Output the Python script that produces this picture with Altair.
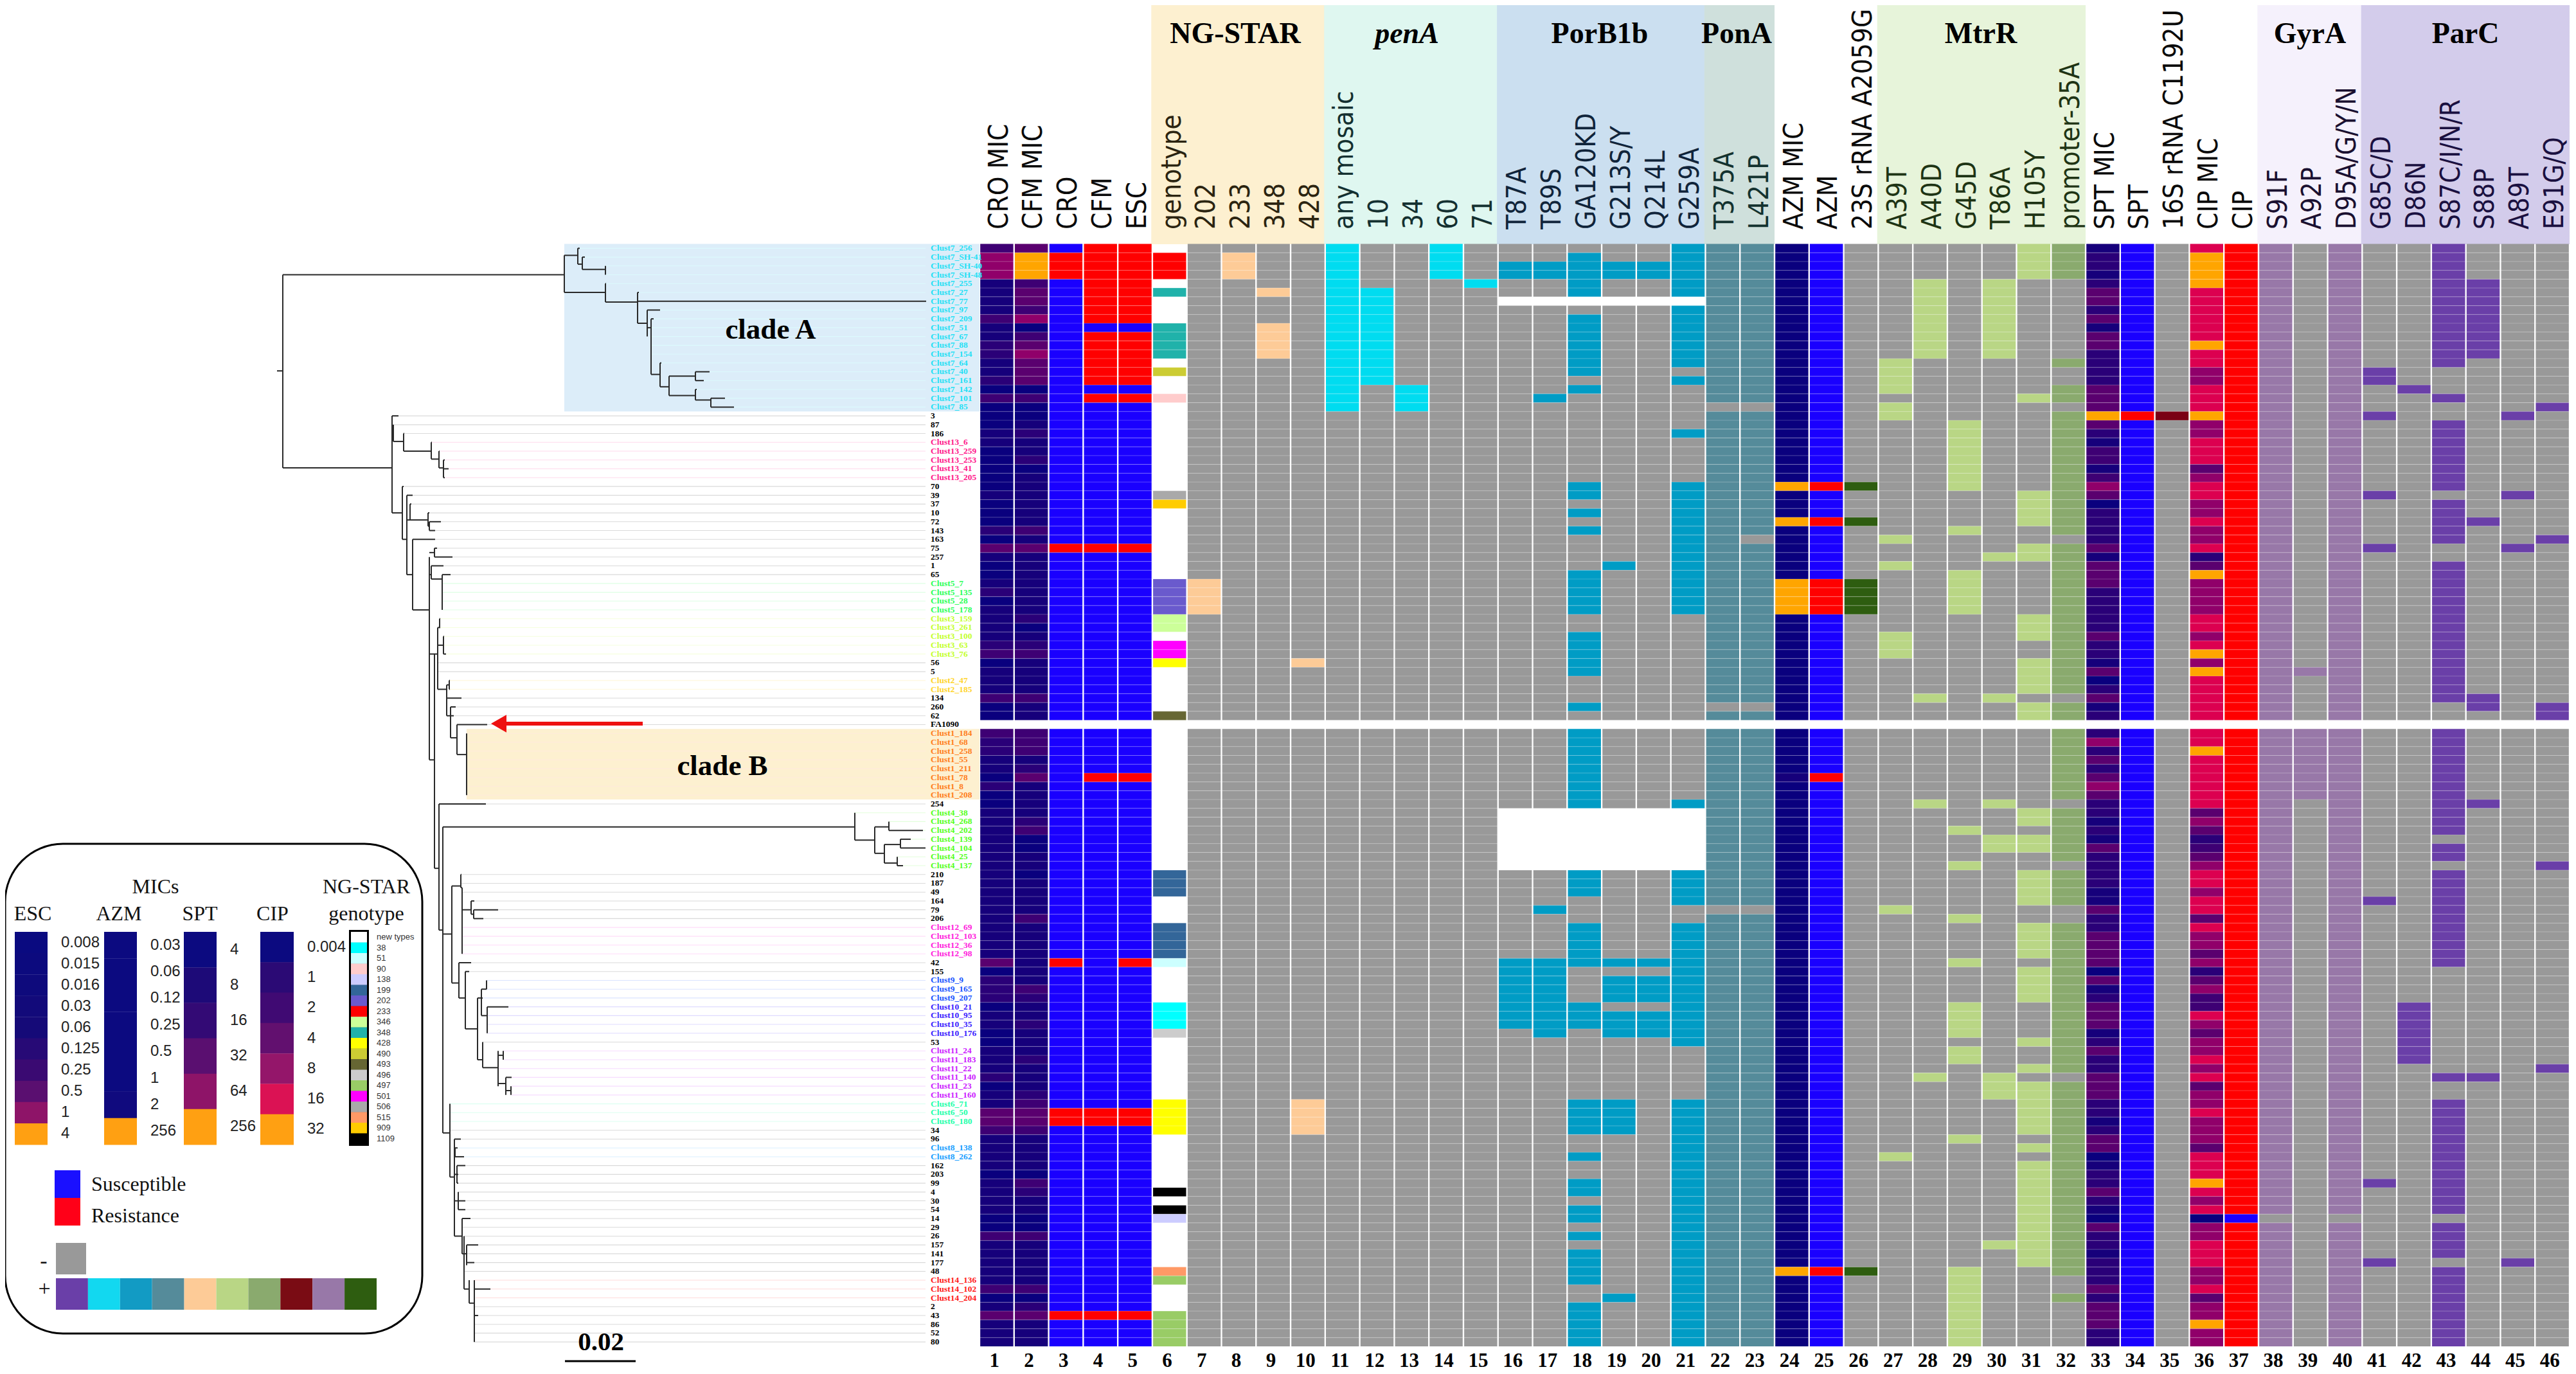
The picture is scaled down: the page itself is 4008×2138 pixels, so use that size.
import altair as alt
import pandas as pd

alt.data_transformers.disable_max_rows()

# ---------- rows ----------
row_labels = (
    ["Clust7_256","Clust7_SH-41","Clust7_SH-40","Clust7_SH-48","Clust7_255","Clust7_27","Clust7_77","Clust7_97","Clust7_209","Clust7_51",
     "Clust7_67","Clust7_88","Clust7_154","Clust7_64","Clust7_40","Clust7_161","Clust7_142","Clust7_101","Clust7_85","3","87","186",
     "Clust13_6","Clust13_259","Clust13_253","Clust13_41","Clust13_205","70","39","37","10","72","143","163","75","257","1","65",
     "Clust5_7","Clust5_135","Clust5_28","Clust5_178","Clust3_159","Clust3_261","Clust3_100","Clust3_63","Clust3_76","56","5",
     "Clust2_47","Clust2_185","134","260","62","FA1090",
     "Clust1_184","Clust1_68","Clust1_258","Clust1_55","Clust1_211","Clust1_78","Clust1_8","Clust1_208","254",
     "Clust4_38","Clust4_268","Clust4_202","Clust4_139","Clust4_104","Clust4_25","Clust4_137","210","187","49","164","79","206",
     "Clust12_69","Clust12_103","Clust12_36","Clust12_98","42","155","Clust9_9","Clust9_165","Clust9_207",
     "Clust10_21","Clust10_95","Clust10_35","Clust10_176","53","Clust11_24","Clust11_183","Clust11_22","Clust11_140","Clust11_23","Clust11_160",
     "Clust6_71","Clust6_50","Clust6_180","34","96","Clust8_138","Clust8_262","162","203","99","4","30","54","14","29","26","157","141","177","48",
     "Clust14_136","Clust14_102","Clust14_204","2","43","86","52","80"])
cluster_colors = {"Clust7_":"#25e0f5","Clust13_":"#ff1a8c","Clust5_":"#2dff5a","Clust3_":"#c4ff2e","Clust2_":"#ffd52e",
                  "Clust1_":"#ff7f1e","Clust4_":"#55ff22","Clust12_":"#ff22dd","Clust9_":"#1a55ff","Clust10_":"#3a22ff",
                  "Clust11_":"#cc22ff","Clust6_":"#22ffaa","Clust8_":"#1aa0ff","Clust14_":"#ff1a1a"}
GAP_ROW = 54

# ---------- columns ----------
col_names = ["CRO MIC","CFM MIC","CRO","CFM","ESC","genotype","202","233","348","428","any mosaic","10","34","60","71",
             "T87A","T89S","GA120KD","G213S/Y","Q214L","G259A","T375A","L421P","AZM MIC","AZM","23S rRNA A2059G",
             "A39T","A40D","G45D","T86A","H105Y","promoter-35A","SPT MIC","SPT","16S rRNA C1192U","CIP MIC","CIP",
             "S91F","A92P","D95A/G/Y/N","G85C/D","D86N","S87C/I/N/R","S88P","A89T","E91G/Q"]

# inclusive row runs where each column is "present"
res_cro  = [(1,3),(34,34),(81,81),(98,99),(121,121)]
res_cfm  = [(0,8),(10,15),(17,17),(34,34),(60,60),(98,99),(121,121)]
res_esc  = [(0,8),(10,15),(17,17),(34,34),(60,60),(81,81),(98,99),(121,121)]
star_202 = [(38,41)]
star_233 = [(1,3)]
star_348 = [(5,5),(9,12)]
star_428 = [(47,47),(97,100)]
pen_any  = [(0,18)]
pen_10   = [(5,15)]
pen_34   = [(16,18)]
pen_60   = [(0,3)]
pen_71   = [(4,4)]
por_t87  = [(2,3),(81,88)]
por_t89  = [(2,3),(17,17),(75,75),(81,89)]
por_ga   = [(1,5),(8,14),(16,16),(27,28),(30,30),(32,32),(37,41),(44,48),(52,52),(55,63),(71,73),(77,81),(86,88),(97,100),
            (103,103),(106,107),(109,110),(112,112),(114,117),(120,124)]
por_g213 = [(2,3),(36,36),(81,81),(83,85),(87,89),(97,100),(119,119)]
por_q214 = [(2,3),(81,81),(83,85),(87,89)]
por_g259 = [(0,5),(7,13),(15,15),(21,21),(27,41),(63,63),(71,74),(77,90),(97,124)]
pon_t375 = [(0,17),(19,51),(53,74),(76,124)]
pon_l421 = [(0,17),(19,32),(34,51),(53,74),(76,124)]
azm_res  = [(27,27),(31,31),(38,41),(60,60),(116,116)]
rrna_23s = [(27,27),(31,31),(38,41),(116,116)]
mtr_a39  = [(13,16),(18,19),(33,33),(36,36),(44,46),(75,75),(103,103)]
mtr_a40  = [(4,12),(51,51),(63,63),(94,94)]
mtr_g45  = [(20,27),(32,32),(37,41),(66,66),(70,70),(76,76),(81,81),(86,89),(91,92),(101,101),(116,124)]
mtr_t86  = [(4,12),(35,35),(51,51),(63,63),(67,68),(94,96),(113,113)]
mtr_h105 = [(0,3),(17,17),(28,31),(34,35),(42,44),(47,50),(52,53),(64,65),(67,68),(71,74),(77,80),(82,85),(90,90),(93,93),(95,100),(102,102),(104,115)]
mtr_p35  = [(0,3),(13,13),(16,17),(19,32),(34,50),(52,53),(55,62),(64,69),(71,74),(77,93),(95,116),(119,119)]
spt_res  = [(19,19)]
rrna_16s = [(19,19)]
cip_sus  = [(110,110)]
gyr_s91  = [(0,53),(55,109),(111,124)]
gyr_a92  = [(48,48),(55,62)]
gyr_d95  = [(0,53),(55,109),(111,124)]
par_g85  = [(14,15),(19,19),(28,28),(34,34),(74,74),(106,106),(115,115)]
par_d86  = [(16,16),(86,92)]
par_s87  = [(0,13),(17,17),(20,27),(29,33),(36,51),(55,66),(68,69),(71,81),(94,94),(97,109),(111,114),(116,124)]
par_s88  = [(4,12),(31,31),(51,52),(63,63),(94,94)]
par_a89  = [(19,19),(28,28),(34,34),(115,115)]
par_e91  = [(18,18),(33,33),(52,53),(70,70),(93,93)]

# genotype strip: (first row, last row, type)
genotype_runs = [(1,3,"233"),(5,5,"348"),(9,12,"348"),(14,14,"490"),(17,17,"90"),(28,28,"506"),(29,29,"909"),(38,41,"202"),
                 (42,43,"346"),(45,46,"501"),(47,47,"428"),(53,53,"493"),(71,73,"199"),(77,80,"199"),(81,81,"51"),(86,88,"38"),
                 (89,89,"496"),(97,100,"428"),(107,107,"1109"),(109,109,"1109"),(110,110,"138"),(116,116,"515"),(117,117,"497"),(121,124,"497")]
genotype_names  = ["new types","38","51","90","138","199","202","233","346","348","428","490","493","496","497","501","506","515","909","1109"]
genotype_colors = ["#ffffff","#00ffff","#ccffff","#ffcccc","#ccccff","#336699","#6a5acd","#ff0000","#ccff99","#20b2aa","#ffff00","#cccc33",
                   "#666633","#cccccc","#99cc66","#ff00ff","#a9a9a9","#ff9966","#ffcc00","#000000"]

# MIC columns, level per row: 0 lowest ... 7 highest. default + (row, level) overrides
cro_mic = {0:3,1:5,2:5,3:5,8:3,11:2,12:2,15:2,16:0,17:3,18:0,19:0,20:0,23:0,24:0,25:0,26:0,27:0,28:1,29:0,30:0,31:0,32:2,33:0,34:4,36:0,37:0,
           39:2,40:0,45:2,46:3,47:0,51:3,52:0,53:0,55:3,56:2,57:2,60:0,61:2,62:0,63:0,76:1,82:0,83:2,84:2,85:2,86:0,89:0,90:0,94:2,98:4,99:4,100:3,
           81:4,95:0,105:0,110:0,111:0,112:3,118:3,119:0,121:4}
cfm_mic = {0:4,1:7,2:7,3:7,4:3,5:4,6:4,7:3,8:5,9:0,10:3,11:4,12:5,13:4,14:4,15:4,16:0,17:3,18:0,19:0,21:2,24:2,25:0,32:3,34:4,42:2,43:0,46:3,
           45:2,51:3,55:3,56:3,57:3,58:1,59:2,60:4,65:2,66:3,67:0,68:0,71:0,76:3,84:3,85:2,88:2,92:2,96:2,97:3,98:4,99:4,100:3,105:0,106:3,107:2,
           110:0,111:0,112:3,118:3,119:0,120:2,121:4}
azm_mic = {27:7,31:7,38:7,39:7,40:7,41:7,60:1,116:7}
spt_mic = [(0,0,1),(1,2,2),(3,3,1),(4,4,2),(5,6,4),(7,7,2),(8,8,4),(9,9,1),(10,11,4),(12,15,2),(16,18,4),(19,19,7),(20,20,4),(21,21,2),(22,22,1),
           (23,24,3),(25,25,1),(26,26,3),(27,27,5),(28,28,4),(29,29,0),(30,33,2),(34,34,4),(35,35,1),(36,38,4),(39,43,2),(44,44,4),(45,46,2),(47,47,1),
           (48,48,4),(49,49,0),(50,50,2),(51,51,4),(52,52,1),(53,53,2),(55,55,2),(56,56,5),(57,57,2),(58,58,4),(59,59,2),(60,60,4),(61,61,5),(62,62,4),
           (63,64,2),(65,65,1),(66,66,2),(67,67,1),(68,68,4),(69,72,2),(73,74,1),(75,75,4),(76,77,2),(78,81,4),(82,82,0),(83,83,4),(84,84,1),(85,85,2),
           (86,88,4),(89,89,1),(90,90,2),(91,91,4),(92,93,2),(94,96,4),(97,98,2),(99,99,1),(100,100,2),(101,102,4),(103,103,0),(104,104,1),(105,106,2),
           (107,107,4),(108,108,2),(109,109,1),(110,110,0),(111,111,4),(112,113,2),(114,114,1),(115,117,2),(118,118,4),(119,119,2),(120,122,4),(123,124,2)]
cip_mic = [(0,0,6),(1,4,7),(5,10,6),(11,11,7),(12,13,6),(14,15,5),(16,18,6),(19,19,7),(20,21,5),(22,24,6),(25,25,4),(26,26,5),(27,28,6),(29,30,5),(31,31,6),
           (32,33,5),(34,34,6),(35,35,2),(36,36,4),(37,37,7),(38,41,5),(42,43,6),(44,44,5),(45,45,6),(46,46,7),(47,47,5),(48,48,7),(49,53,6),
           (55,56,6),(57,57,7),(58,63,6),(64,64,4),(65,65,5),(66,66,4),(67,67,2),(68,68,3),(69,69,4),(70,70,5),(71,72,6),(73,73,5),(74,75,6),
           (76,76,4),(77,77,6),(78,79,5),(80,80,4),(81,81,5),(82,82,2),(83,83,4),(84,84,5),(85,86,3),(87,87,6),(88,88,5),(89,89,4),(90,91,5),(92,92,6),
           (93,93,5),(94,94,6),(95,95,4),(96,97,5),(98,98,6),(99,101,5),(102,102,4),(103,105,6),(106,106,7),(107,107,6),(108,108,5),(109,109,6),(110,110,0),
           (111,112,5),(113,115,6),(116,117,5),(118,118,6),(119,119,4),(120,121,5),(122,122,7),(123,124,5)]
mic_palette = ["#0a007e","#16007b","#2a0078","#3e0074","#5a006f","#90006a","#dc0050","#ffa500"]

GREY = "#999999"; BLUE = "#1a00ff"; RED = "#ff0000"; CYAN = "#00dcf0"; TEAL = "#009cc5"; SLATE = "#558b9a"
PEACH = "#fdcb97"; LIME = "#b9d685"; OLIVE = "#8aaa6e"; WINE = "#7a0014"; MAUVE = "#9878a8"; VIOLET = "#6a3fa8"; FOREST = "#2e5d10"

binary_cols = {7:(star_202,PEACH),8:(star_233,PEACH),9:(star_348,PEACH),10:(star_428,PEACH),
               11:(pen_any,CYAN),12:(pen_10,CYAN),13:(pen_34,CYAN),14:(pen_60,CYAN),15:(pen_71,CYAN),
               16:(por_t87,TEAL),17:(por_t89,TEAL),18:(por_ga,TEAL),19:(por_g213,TEAL),20:(por_q214,TEAL),21:(por_g259,TEAL),
               22:(pon_t375,SLATE),23:(pon_l421,SLATE),26:(rrna_23s,FOREST),
               27:(mtr_a39,LIME),28:(mtr_a40,LIME),29:(mtr_g45,LIME),30:(mtr_t86,LIME),31:(mtr_h105,LIME),32:(mtr_p35,OLIVE),35:(rrna_16s,WINE),
               38:(gyr_s91,MAUVE),39:(gyr_a92,MAUVE),40:(gyr_d95,MAUVE),
               41:(par_g85,VIOLET),42:(par_d86,VIOLET),43:(par_s87,VIOLET),44:(par_s88,VIOLET),45:(par_a89,VIOLET),46:(par_e91,VIOLET)}
susc_cols = {3:(res_cro,RED,BLUE),4:(res_cfm,RED,BLUE),5:(res_esc,RED,BLUE),25:(azm_res,RED,BLUE),34:(spt_res,RED,BLUE),37:(cip_sus,BLUE,RED)}
missing = {16:[6]+list(range(64,71)),17:[6]+list(range(64,71)),18:[6]+list(range(64,71)),19:[6]+list(range(64,71)),20:[6]+list(range(64,71)),21:[6]+list(range(64,71))}

def in_runs(r, runs):
    return any(a <= r <= b for a, b in runs)
def run_value(r, runs):
    for a, b, v in runs:
        if a <= r <= b:
            return v
    return 1

cells = []
for c in range(1, 47):
    for r in range(125):
        if r == GAP_ROW or r in missing.get(c, []):
            continue
        fill = None
        if c == 1:   fill = mic_palette[cro_mic.get(r, 1)]
        elif c == 2: fill = mic_palette[cfm_mic.get(r, 1)]
        elif c == 24: fill = mic_palette[azm_mic.get(r, 0)]
        elif c == 33: fill = mic_palette[run_value(r, spt_mic)]
        elif c == 36: fill = mic_palette[run_value(r, cip_mic)]
        elif c == 6:
            for a, b, g in genotype_runs:
                if a <= r <= b:
                    fill = genotype_colors[genotype_names.index(g)]
        elif c in susc_cols:
            runs, on, off = susc_cols[c]
            fill = on if in_runs(r, runs) else off
        else:
            runs, on = binary_cols[c]
            fill = on if in_runs(r, runs) else GREY
        if fill:
            cells.append(dict(c0=c-1+0.022, c1=c-0.022, r0=r-0.5, r1=r+0.5, fill=fill))
cells = pd.DataFrame(cells)

# ---------- tree (x along the tree, y in row units) ----------
tree_h = [(431,440,13.9),(440,878,3),(440,610,24.9),(878,899,0.8),(899,902,0),(899,906,1.8),(906,910,1),(906,942,2.4),
 (878,942,5),(942,943,4),(942,992,6.1),(992,994,5),(992,1441,6),(992,1007,8.5),(1007,1027,7),(1007,1013,9),(1013,1017,8),
 (1013,1027,14.3),(1027,1029,13),(1027,1041,15.7),(1041,1082,14.5),(1082,1104,14),(1082,1095,15),(1041,1082,16.7),(1082,1084,16),(1082,1106,17.2),(1106,1128,17),(1106,1142,18),
 (610,620,19),(610,612,20.5),(612,628,21.9),(628,629,21),(628,671,23),(671,672,22),(671,683,23.9),(683,684,23),(683,690,24.9),(690,692,24),(690,698,25),(690,692,26),
 (610,626,30),(626,628,27),(626,633,33),(633,642,28),(633,638,30.8),(638,640,29),(638,666,30.8),(666,668,30),(666,668,31.5),(668,686,31),(668,677,32),
 (633,642,37),(642,677,33),(642,668,41),(668,676,34.5),(676,680,34),(676,704,35),(668,671,37),(671,690,36),(671,688,37.5),(688,701,37),
 (668,676,46),(676,681,46),(681,684,43),(684,685,42),(684,685,43),(681,690,45),(690,691,44),(690,691,45),(690,694,46),(681,682,47),(681,682,48),
 (681,695,50),(695,699,49.5),(699,700,49),(699,700,50),(695,718,51),(695,701,53),(701,709,52),(701,706,53),(701,711,55.5),(711,758,54),(711,726,57.4),(668,676,58),
 (676,683,70.3),(683,756,63),(683,689,77.3),(689,1330,65.6),(1330,1361,67.1),(1361,1383,65.6),(1383,1436,66),(1361,1376,68.6),(1376,1401,67.6),(1401,1417,67),(1401,1440,68),
 (1376,1396,69.7),(1396,1405,70),(689,703,77.75),(703,717,72.3),(717,718,71),(717,719,72.5),(719,733,75),(733,738,74),(733,737,75.5),(737,775,75),(737,752,76),
 (703,714,83.3),(714,733,81),(714,724,85),(724,730,82),(724,743,88.5),(743,749,85),(749,757,84),(749,751,85),(749,758,87),(758,791,86),
 (743,751,92),(751,775,92.9),(775,783,91.5),(775,787,94.7),(787,796,94),(787,795,95.5),(689,700,100.3),(700,707,105.3),(707,717,101),(707,708,102.5),(708,712,102),(708,722,103),
 (707,711,105),(711,724,104),(711,713,105),(711,713,106),(707,713,108),(713,724,108),(713,724,109),(707,719,112),(719,732,110),(719,722,114),(722,726,114),(726,744,113),(726,738,115),
 (722,730,118),(730,738,119.6),(738,763,118),(738,744,121)]
tree_v = [(440,3,24.9),(878,0.8,5),(899,0,1.8),(906,1,2.4),(942,2,3),(942,4,6.1),(992,5,8.5),(1007,7,10),(1013,8,14.3),(1027,13,15.7),(1041,14.5,16.7),(1082,14,15),(1082,16,17.2),(1106,17,18),
 (610,19,30),(612,20,21.9),(628,21,23),(671,22,23.9),(683,23,24.9),(690,24,26),(626,27,33),(633,28,37),(638,29,30.8),(666,30,31.5),(668,31,32),(642,33,41),(668,35,58),
 (676,34,35),(671,36,37.5),(688,37,41),(676,46,70.3),(681,43,50),(684,42,43),(690,44,46),(695,49.5,53),(699,49,50),(701,52,55.5),(711,54,57.4),(726,55,62),
 (683,63,77.3),(689,65.6,100.3),(1330,64,67.1),(1361,65.6,68.6),(1383,65,66),(1376,67.6,69.7),(1401,67,68),(1396,69,70),(703,72.3,83.3),(717,71,72.5),(719,72.5,80),(733,74,75.5),(737,75,76),
 (714,81,85),(724,82,88.5),(743,85,92),(749,84,87),(757,83,84),(758,86,89),(751,90,92.9),(775,91,95),(783,91,92),(787,94,96),(795,95,96),(700,97,105.3),(707,101,112),(708,102,103),(711,104,106),
 (713,107,109),(719,110,114),(722,112,118),(726,113,115.3),(730,117,119.6),(738,117,124)]
tip_x = [902,910,942,942,943,994,1441,1027,1017,1014,1014,1014,1014,1029,1104,1095,1084,1128,1142,620,613,629,672,684,692,698,692,
         628,642,640,668,686,677,677,680,704,690,701,689,689,689,689,685,685,691,691,694,682,682,700,700,718,709,706,758,
         726,726,726,726,726,726,726,726,756,1330,1383,1436,1417,1440,1396,1405,717,718,719,738,775,752,719,719,719,719,
         733,730,757,757,751,791,758,758,758,751,783,783,775,796,796,796,700,700,700,700,717,712,722,724,713,713,713,724,724,732,719,722,744,726,738,722,738,763,740,738,744,739,739,739]
TIP_END = 1440

def color_of(lbl):
    for k, v in cluster_colors.items():
        if lbl.startswith(k):
            return v
    return "#000000"
def tint(h, f=0.84):
    rgb = [int(h[i:i+2], 16) for i in (1, 3, 5)]
    if h == "#000000":
        return "#dadada"
    return "#%02x%02x%02x" % tuple(int(v + (255 - v) * f) for v in rgb)

rows_df = pd.DataFrame(dict(r=list(range(125)), label=row_labels, tip=tip_x))
rows_df["color"] = rows_df.label.map(color_of)
rows_df["tint"] = rows_df.color.map(tint)
rows_df["end"] = TIP_END
rows_df["label_x"] = 1448

segs = [dict(x=a, x2=b, y=r, y2=r) for a, b, r in tree_h] + [dict(x=x, x2=x, y=a, y2=b) for x, a, b in tree_v]
segs = pd.DataFrame(segs)

# ---------- scales ----------
PX = alt.Scale(domain=[0, 4008], range=[-8, 4000], nice=False, zero=False)
PY = alt.Scale(domain=[0, 2138], range=[-8, 2130], nice=False, zero=False)
CX = alt.Scale(domain=[0, 46], range=[1516, 3990], nice=False, zero=False)
RY = alt.Scale(domain=[-0.5, 124.5], range=[371.5, 2087], nice=False, zero=False)

def X(f, s=PX): return alt.X(f, type="quantitative", scale=s, axis=None)
def Y(f, s=PY): return alt.Y(f, type="quantitative", scale=s, axis=None)

def boxes(df):
    return alt.Chart(df).mark_rect(strokeWidth=0).encode(x=X("x0"), x2="x1", y=Y("y0"), y2="y1",
                                                         fill=alt.Fill("fill:N", scale=None))
def texts(df, **kw):
    return alt.Chart(df).mark_text(**kw).encode(x=X("x"), y=Y("y"), text="t:N")

# header bands
band_names = ["NG-STAR","penA","PorB1b","PonA","MtrR","GyrA","ParC"]
band_cols  = [(6,10),(11,15),(16,21),(22,23),(27,32),(38,40),(41,46)]
band_fill  = ["#fdf0d0","#dff7f0","#cbdff0","#cfe0dc","#e7f4da","#f5f1fc","#d3cceb"]
band_ink   = ["#2b2410","#143030","#10243a","#13322f","#1e3414","#1a1030","#1a1040"]
band_title_x = [1922,2189,2489,2702,3082,3594,3836]
bands = pd.DataFrame([dict(c0=a-1-0.03, c1=b-0.0, y0=6, y1=380, fill=f) for (a, b), f in zip(band_cols, band_fill)])
band_layer = alt.Chart(bands).mark_rect(strokeWidth=0).encode(x=X("c0", CX), x2="c1", y=Y("y0"), y2="y1", fill=alt.Fill("fill:N", scale=None))

clades = pd.DataFrame([dict(x0=878, x1=1524, r0=-0.5, r1=18.5, fill="#dcedf9"), dict(x0=726, x1=1524, r0=54.5, r1=62.5, fill="#fdf0d0")])
clade_layer = alt.Chart(clades).mark_rect(strokeWidth=0).encode(x=X("x0"), x2="x1", y=Y("r0", RY), y2="r1", fill=alt.Fill("fill:N", scale=None))

leader = alt.Chart(rows_df).mark_rule(strokeWidth=1.1).encode(x=X("tip"), x2="end", y=Y("r", RY), color=alt.Color("tint:N", scale=None))
tree = alt.Chart(segs).mark_rule(strokeWidth=2, color="#2a2a2a").encode(x=X("x"), x2="x2", y=Y("y", RY), y2="y2")
heat = alt.Chart(cells).mark_rect(strokeWidth=0).encode(x=X("c0", CX), x2="c1", y=Y("r0", RY), y2="r1", fill=alt.Fill("fill:N", scale=None))
line_df = pd.DataFrame([dict(a=0, b=46, r=r-0.5) for r in range(125) if r not in (0, GAP_ROW, GAP_ROW+1)])
row_lines = alt.Chart(line_df).mark_rule(strokeWidth=1.2, color="white", opacity=0.22).encode(x=X("a", CX), x2="b", y=Y("r", RY))
row_text = alt.Chart(rows_df).mark_text(font="Liberation Serif", fontWeight="bold", fontSize=13.5, align="left", baseline="middle").encode(
    x=X("label_x"), y=Y("r", RY), text="label:N", color=alt.Color("color:N", scale=None))

# column titles
ink = {}
for (a, b), k in zip(band_cols, band_ink):
    for c in range(a, b + 1):
        ink[c] = k
heads = pd.DataFrame([dict(c=i + 0.5 + 0.07, y=357, t=n, ink=ink.get(i + 1, "#0a0a0a")) for i, n in enumerate(col_names)])
head_layer = alt.Chart(heads).mark_text(font="DejaVu Sans Condensed, DejaVu Sans", fontSize=42, angle=270, align="left", baseline="middle").encode(
    x=X("c", CX), y=Y("y"), text="t:N", color=alt.Color("ink:N", scale=None))
nums = pd.DataFrame([dict(c=i + 0.5 - 0.07, y=2118, t=str(i + 1)) for i in range(46)])
num_layer = alt.Chart(nums).mark_text(font="Liberation Serif", fontWeight="bold", fontSize=31, baseline="middle").encode(
    x=X("c", CX), y=Y("y"), text="t:N")

titles = pd.DataFrame([dict(x=x, y=67, t=n) for x, n in zip(band_title_x, band_names) if n != "penA"])
title_layer = texts(titles, font="Liberation Serif", fontWeight="bold", fontSize=46, baseline="alphabetic", color="black")
pena_layer = texts(pd.DataFrame([dict(x=band_title_x[1], y=67, t="penA")]), font="Liberation Serif", fontWeight="bold", fontStyle="italic", fontSize=46, baseline="alphabetic", color="black")
clade_text = texts(pd.DataFrame([dict(x=1199, y=527, t="clade A"), dict(x=1124, y=1206, t="clade B")]),
                   font="Liberation Serif", fontWeight="bold", fontSize=45, baseline="alphabetic", color="black")

# arrow and scale bar
arrow = alt.Chart(pd.DataFrame([dict(x=784, x2=1000, y=1126)])).mark_rule(strokeWidth=6, color="#ee1111").encode(x=X("x"), x2="x2", y=Y("y"))
arrow_head = alt.Chart(pd.DataFrame([dict(x=776, y=1126)])).mark_point(shape="triangle-left", size=770, filled=True, opacity=1, color="#ee1111").encode(x=X("x"), y=Y("y"))
scale_bar = alt.Chart(pd.DataFrame([dict(x=879, x2=989, y=2118)])).mark_rule(strokeWidth=3, color="black").encode(x=X("x"), x2="x2", y=Y("y"))
scale_text = texts(pd.DataFrame([dict(x=935, y=2101, t="0.02")]), font="Liberation Serif", fontWeight="bold", fontSize=41, baseline="alphabetic", color="black")

# legend
legend_box = alt.Chart(pd.DataFrame([dict(x0=8, x1=657, y0=1313, y1=2075)])).mark_rect(
    cornerRadius=90, fill="white", stroke="black", strokeWidth=3).encode(x=X("x0"), x2="x1", y=Y("y0"), y2="y1")

esc_levels = ["0.008","0.015","0.016","0.03","0.06","0.125","0.25","0.5","1","4"]
esc_colors = ["#0a0a80","#0c0a7e","#0e0a7c","#120a7a","#150a78","#270a76","#3a0a72","#5a0f70","#8e1468","#ffa012"]
azm_levels = ["0.03","0.06","0.12","0.25","0.5","1","2","256"]
azm_colors = ["#0c0a80"]*6 + ["#100a7e","#ffa012"]
spt_levels = ["4","8","16","32","64","256"]
spt_colors = ["#0c0a80","#1d0a78","#330a75","#5a0f70","#8e1468","#ffa012"]
cip_levels = ["0.004","1","2","4","8","16","32"]
cip_colors = ["#0c0a80","#2b0a75","#400a73","#62106f","#94166a","#db1254","#ffa012"]

leg_boxes, leg_txt = [], []
for lv, colrs, x0, x1, tx in [(esc_levels, esc_colors, 23, 74, 95), (azm_levels, azm_colors, 162, 213, 234),
                              (spt_levels, spt_colors, 286, 337, 358), (cip_levels, cip_colors, 405, 457, 478)]:
    h = (1781 - 1450) / len(lv)
    for i, (n, k) in enumerate(zip(lv, colrs)):
        leg_boxes.append(dict(x0=x0, x1=x1, y0=1450 + i*h, y1=1450 + (i+1)*h + 0.4, fill=k))
        leg_txt.append(dict(x=tx, y=1450 + (i+0.5)*h, t=n))
leg_boxes.append(dict(x0=543, x1=574, y0=1447, y1=1783, fill="#000000"))
g_h = (1780 - 1450) / len(genotype_names)
for i, (n, k) in enumerate(zip(genotype_names, genotype_colors)):
    leg_boxes.append(dict(x0=546, x1=571, y0=1450 + i*g_h, y1=1450 + (i+1)*g_h + 0.4, fill=k))
leg_boxes += [dict(x0=85, x1=125, y0=1821, y1=1864, fill="#1a10ff"), dict(x0=85, x1=125, y0=1864, y1=1907, fill="#ff0018"),
              dict(x0=87, x1=134, y0=1934, y1=1983, fill="#999999")]
present_colors = [VIOLET, "#12d8f0", "#129bc4", SLATE, PEACH, LIME, OLIVE, "#7a0c14", MAUVE, FOREST]
for i, k in enumerate(present_colors):
    leg_boxes.append(dict(x0=87 + i*49.9, x1=87 + (i+1)*49.9, y0=1989, y1=2038, fill=k))
leg_box_layer = boxes(pd.DataFrame(leg_boxes))
leg_txt_layer = texts(pd.DataFrame(leg_txt), font="Liberation Sans", fontSize=24, align="left", baseline="middle", color="#222222")
geno_txt = pd.DataFrame([dict(x=586, y=1450 + (i+0.5)*g_h, t=n) for i, n in enumerate(genotype_names)])
geno_layer = texts(geno_txt, font="Liberation Sans", fontSize=13, align="left", baseline="middle", color="#333333")
serif_heads = pd.DataFrame([dict(x=242, y=1390, t="MICs"), dict(x=570, y=1390, t="NG-STAR"), dict(x=51, y=1432, t="ESC"), dict(x=185, y=1432, t="AZM"),
                            dict(x=311, y=1432, t="SPT"), dict(x=424, y=1432, t="CIP"), dict(x=570, y=1432, t="genotype")])
serif_layer = texts(serif_heads, font="Liberation Serif", fontSize=32, baseline="alphabetic", color="#111111")
sr_layer = texts(pd.DataFrame([dict(x=142, y=1853, t="Susceptible"), dict(x=142, y=1902, t="Resistance")]),
                 font="Liberation Serif", fontSize=32, align="left", baseline="alphabetic", color="#111111")
pm_layer = texts(pd.DataFrame([dict(x=68, y=1963, t="-"), dict(x=69, y=2006, t="+")]),
                 font="Liberation Serif", fontSize=34, baseline="middle", color="#111111")

chart = alt.layer(band_layer, clade_layer, leader, tree, heat, row_lines, row_text, head_layer, num_layer, title_layer, pena_layer,
                  clade_text, arrow, arrow_head, scale_bar, scale_text, legend_box, leg_box_layer, leg_txt_layer, geno_layer,
                  serif_layer, sr_layer, pm_layer
    ).resolve_scale(x="independent", y="independent"
    ).properties(width=3992, height=2130, padding=0, autosize="none", background="white"
    ).configure_view(stroke=None)

chart.save("out.html", embed_options={"renderer": "svg", "actions": False})
